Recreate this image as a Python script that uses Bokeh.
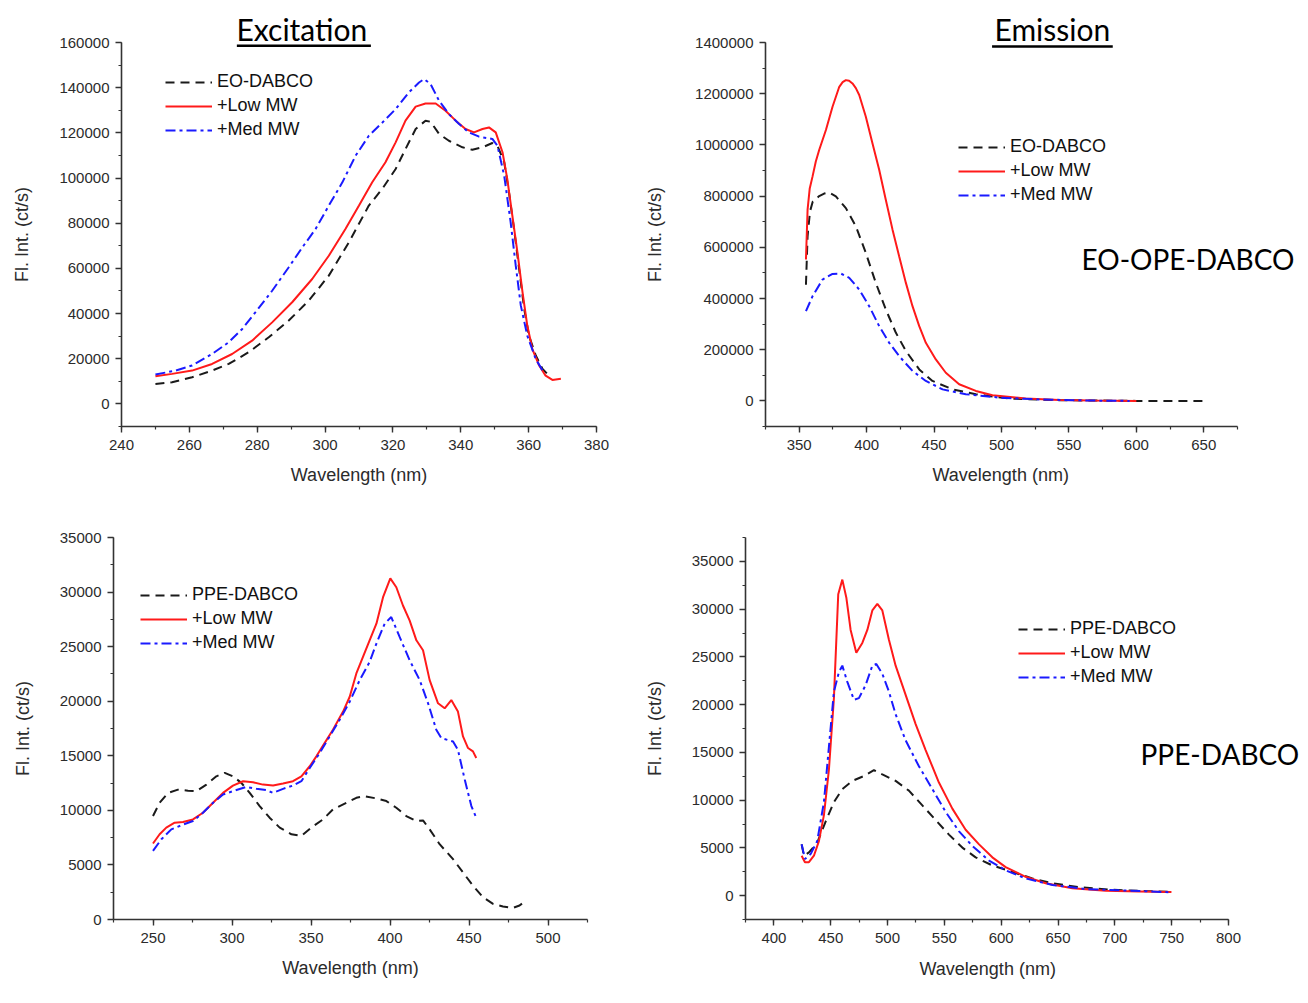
from bokeh.plotting import figure
from bokeh.models import (Range1d, SingleIntervalTicker, BasicTickFormatter, Legend,
                          LegendItem, Label, Arrow, Title)
from bokeh.layouts import column, row
from bokeh.embed import file_html
from bokeh.resources import INLINE

# ---------------- data ----------------
# Panel A: Excitation, EO-OPE-DABCO
exA_dabco_x = [250, 254.9, 260.8, 266.7, 271.6, 277.5, 283.4, 289.3, 295.2, 301.1, 307, 312.9, 316.8,
               320.8, 323.7, 326.7, 329.6, 331.1, 333.6, 336.5, 340.5, 343.4, 346.4, 349.3, 350.8,
               352.8, 354.2, 355.7, 357.2, 358.7, 360.1, 362.1, 364.1, 366]
exA_dabco_y = [8850, 9600, 11800, 14750, 17700, 22900, 29500, 36900, 45700, 56800, 71500, 87800, 95100,
               104000, 112800, 121700, 125400, 124900, 119500, 116500, 113600, 112500, 113600, 115500,
               114300, 107000, 93700, 77400, 59700, 42000, 30200, 21400, 15500, 12500]
exA_low_x = [250, 254.9, 260.8, 266.7, 272.6, 278.5, 284.4, 290.3, 296.2, 301.1, 306, 310, 313.9, 317.8,
             320.8, 323.7, 326.7, 329.6, 332.6, 335.5, 338.5, 341.4, 343.9, 346.4, 348.3, 350.3, 352.3,
             353.7, 355.2, 356.7, 358.2, 359.6, 361.1, 363.1, 365, 367, 369.5]
exA_low_y = [12200, 13300, 14750, 17700, 22100, 28000, 36100, 45000, 55300, 65600, 77400, 87800, 98100,
             107000, 115800, 125400, 131600, 133000, 133000, 129800, 125400, 121700, 120200, 121700,
             122400, 120200, 111400, 99600, 83300, 67100, 49400, 34700, 24300, 17000, 12500, 10600, 11100]
exA_med_x = [250, 255.9, 260.8, 266.7, 271.6, 275.6, 279.5, 284.4, 289.3, 293.3, 297.2, 301.1, 305.1, 309,
             312.9, 316.9, 320.8, 324.7, 327.7, 329.2, 331.1, 333.6, 336.5, 339.5, 342.4, 345.4, 349.3,
             350.8, 352.8, 354.7, 356.2, 357.7, 359.6, 362.1, 364.1]
exA_med_y = [13000, 14750, 17000, 22100, 27300, 33200, 40600, 50100, 60500, 69300, 77400, 87800, 98100,
             109900, 118700, 124600, 130500, 137900, 142300, 143800, 141600, 134200, 128300, 123900,
             120200, 118300, 117300, 114300, 101000, 80400, 61200, 43500, 30200, 19900, 14750]

# Panel B: Emission, EO-OPE-DABCO
emB_dabco_x = [355, 356.2, 358, 360, 364.8, 368.5, 372.2, 377.2, 384.6, 392, 399.4, 406.8, 414.2, 421.7,
               429.1, 439, 448.8, 463.7, 481, 505.7, 542.7, 600, 650]
emB_dabco_y = [454000, 643000, 740000, 778000, 800000, 810000, 814000, 799000, 753000, 682000, 578000,
               461000, 357000, 266000, 195000, 123000, 78000, 45000, 26000, 9100, 2600, 0, 0]
emB_low_x = [355, 356.2, 357.8, 359.9, 362.3, 364.8, 369.8, 374.7, 379.7, 382.2, 384.6, 387, 389.5,
             392, 394.5, 399.4, 404.3, 409.3, 414.2, 419.2, 424.1, 429.1, 434, 439, 443.9, 451.3, 458.7,
             468.6, 481, 493.3, 518, 542.7, 567.4, 600]
emB_low_y = [552000, 747000, 830000, 877000, 935000, 980000, 1058000, 1149000, 1227000, 1245000,
             1253000, 1251000, 1240000, 1222000, 1195000, 1110000, 1006000, 903000, 786000, 669000,
             565000, 461000, 370000, 292000, 227000, 162000, 110000, 65000, 39000, 22000, 9100, 4000,
             1300, 0]
emB_med_x = [355, 359.9, 367.3, 374.7, 380.9, 387.1, 394.5, 401.9, 409.3, 416.7, 424.1, 434, 443.9,
             456.3, 473.5, 498.3, 530.4, 567.4, 595]
emB_med_y = [350600, 409000, 474000, 496000, 497400, 480500, 435000, 370000, 292000, 227000, 175000,
             117000, 78000, 45000, 26000, 13000, 5200, 1300, 0]

# Panel C: Excitation, PPE-DABCO
exC_dabco_x = [250, 254.2, 259.5, 265.8, 272.2, 277.4, 283.8, 290.1, 295.4, 300.6, 305.9, 311.2, 317.5,
               323.8, 330.2, 337.6, 343.9, 350.2, 357.6, 363.9, 372.4, 378.7, 384, 391.4, 397.7, 404,
               410.3, 416.7, 420.9, 425.1, 431.4, 439.9, 446.2, 452.5, 458.9, 465.2, 471.5, 477.8, 482,
               485.9]
exC_dabco_y = [9480, 10700, 11600, 11900, 11800, 11760, 12360, 13120, 13430, 13120, 12520, 11600, 10390,
               9330, 8420, 7810, 7660, 8420, 9170, 10090, 10700, 11150, 11300, 11090, 10850, 10240, 9480,
               9020, 9080, 8260, 6900, 5530, 4310, 3100, 2040, 1430, 1190, 1060, 1280, 1730]
exC_low_x = [250, 254.2, 258.4, 263.7, 269, 275.3, 281.6, 288, 294.3, 300.6, 307, 313.3, 319.6, 326,
             332.3, 338.6, 343.9, 349.2, 353.4, 358.6, 363.9, 370.3, 374.5, 378.7, 382.9, 387.1, 391.4,
             395.6, 400.2, 404, 408.2, 412.4, 416.7, 420.9, 425.1, 430.4, 434.6, 438.8, 443, 446.2,
             449.4, 452.5, 454.6]
exC_low_y = [6960, 7810, 8420, 8870, 8930, 9170, 9780, 10690, 11600, 12270, 12670, 12580, 12360, 12270,
             12460, 12670, 13120, 14040, 14950, 16160, 17380, 19050, 20410, 22540, 24060, 25580, 27100,
             29530, 31260, 30440, 28770, 27400, 25580, 24670, 21930, 19810, 19350, 20110, 19050, 16770,
             15710, 15400, 14800]
exC_med_x = [250, 255.3, 261.6, 267.9, 275.3, 281.6, 288, 294.3, 300.6, 309.1, 315.4, 321.7, 326, 332.3,
             338.6, 343.9, 349.2, 355.5, 361.8, 368.1, 374.5, 380.8, 387.1, 391.4, 396.6, 400.8, 406.1,
             412.4, 418.8, 424.1, 429.3, 432.5, 439.9, 443, 447.3, 451.5, 454.6]
exC_med_y = [6290, 7350, 8260, 8630, 9020, 9780, 10690, 11450, 11760, 12150, 11970, 11850, 11600, 11970,
             12270, 12670, 13880, 15250, 16770, 18290, 19960, 21930, 23600, 25280, 27100, 27710, 25890,
             23760, 21930, 19810, 17380, 16620, 16310, 15550, 12820, 10390, 9330]

# Panel D: Emission, PPE-DABCO
emD_dabco_x = [424.4, 426.4, 430.8, 438.1, 445.5, 452.8, 460.2, 469, 479.2, 488, 495.4, 507.1, 518.8,
               530.6, 542.3, 554, 565.8, 577.5, 592.2, 609.8, 627.4, 645, 668.5, 697.8, 727.2, 747.7]
emD_dabco_y = [5370, 4180, 4520, 5540, 7750, 9790, 11160, 12010, 12520, 13130, 12690, 12010, 10990, 9450,
               7920, 6390, 5030, 4010, 3160, 2480, 1800, 1290, 880, 610, 480, 410]
emD_low_x = [424.4, 427.3, 430.8, 435.2, 439.6, 444, 448.4, 452.8, 456.6, 460.2, 463.7, 467.5, 472.5,
             477.8, 482.2, 486.6, 491, 495.4, 501.2, 507.1, 515.9, 524.7, 533.5, 545.2, 557, 568.7,
             580.5, 592.2, 603.9, 621.5, 639.1, 662.6, 692, 721.3, 749.8]
emD_low_y = [4180, 3500, 3500, 4180, 5710, 8430, 13200, 20680, 31560, 33090, 31220, 27820, 25440, 26460,
             27820, 29860, 30540, 29860, 26800, 24080, 21020, 17960, 15240, 11840, 9110, 6900, 5370,
             4010, 2990, 1970, 1290, 780, 510, 440, 370]
emD_med_x = [424.4, 427.3, 432.3, 438.1, 444, 448.4, 452.8, 457.2, 460.2, 464.6, 470.4, 474.8, 480.7,
             486.6, 490.1, 495.4, 501.2, 507.1, 515.9, 527.6, 539.4, 551.1, 562.9, 574.6, 589.3, 603.9,
             621.5, 645, 674.4, 706.6, 730.1, 749.8]
emD_med_y = [5370, 3840, 4350, 5710, 9790, 15580, 21360, 23400, 24080, 22380, 20510, 20680, 22040, 24080,
             24250, 23230, 21360, 18980, 16260, 13540, 11160, 8770, 6730, 5200, 3670, 2650, 1800, 1120,
             680, 540, 440, 340]

labels_A = ["EO-DABCO", "+Low MW", "+Med MW"]
labels_C = ["PPE-DABCO", "+Low MW", "+Med MW"]
x_title = "Wavelength (nm)"
y_title = "Fl. Int. (ct/s)"

# ---------------- styling ----------------
TICK_FONT = "Liberation Sans"
BLACK = "#1a1a1a"
RED = "#ff1a1a"
BLUE = "#1a1aff"


def make_fig(width, height, borders, xr, yr, xint, yint, ylab_standoff=24, ext_px=0,
             xlabel_offset=None, xlabel_standoff=25):
    """ext_px: extra blank frame width on the right (axis itself is bounded to xr).
    xlabel_offset: if given, the x-axis title is drawn as a below-title, left offset in px."""
    bl, br, bt, bb = borders
    frame_w = width - bl - br
    x_end = xr[1] + ext_px * (xr[1] - xr[0]) / frame_w
    p = figure(width=width, height=height, x_range=Range1d(xr[0], x_end), y_range=Range1d(*yr),
               output_backend="svg", toolbar_location=None,
               min_border_left=bl, min_border_right=br - ext_px, min_border_top=bt,
               min_border_bottom=bb)
    p.xgrid.visible = False
    p.ygrid.visible = False
    p.outline_line_color = None
    p.background_fill_color = "white"
    p.border_fill_color = "white"
    p.xaxis.ticker = SingleIntervalTicker(interval=xint, num_minor_ticks=2)
    p.yaxis.ticker = SingleIntervalTicker(interval=yint, num_minor_ticks=2)
    p.yaxis.formatter = BasicTickFormatter(use_scientific=False)
    p.xaxis.formatter = BasicTickFormatter(use_scientific=False)
    p.xaxis.bounds = xr
    for ax in (p.xaxis[0], p.yaxis[0]):
        ax.axis_line_color = "#333333"
        ax.axis_line_width = 1.6
        ax.major_tick_line_color = "#333333"
        ax.major_tick_line_width = 1.4
        ax.minor_tick_line_color = "#333333"
        ax.minor_tick_line_width = 1.2
        ax.major_tick_out = 6
        ax.major_tick_in = 0
        ax.minor_tick_out = 3
        ax.minor_tick_in = 0
        ax.major_label_text_font = TICK_FONT
        ax.major_label_text_font_size = "15px"
        ax.major_label_text_color = "#2b2b2b"
        ax.axis_label_text_font = TICK_FONT
        ax.axis_label_text_font_size = "18px"
        ax.axis_label_text_font_style = "normal"
        ax.axis_label_text_color = "#2b2b2b"
    if xlabel_offset is None:
        p.xaxis.axis_label = x_title
    else:
        p.add_layout(Title(text=x_title, align="left", offset=xlabel_offset, standoff=xlabel_standoff,
                           vertical_align="top", text_font=TICK_FONT, text_font_size="18px",
                           text_font_style="normal", text_color="#2b2b2b"), "below")
    p.yaxis.axis_label = y_title
    p.xaxis.major_label_standoff = 7
    p.xaxis.axis_label_standoff = 12
    p.yaxis.major_label_standoff = 6
    p.yaxis.axis_label_standoff = ylab_standoff
    return p


def add_series(p, xs, ys, labels, loc):
    r1 = p.line(xs[0], ys[0], line_color=BLACK, line_width=2, line_dash="9 6")
    r2 = p.line(xs[1], ys[1], line_color=RED, line_width=2)
    r3 = p.line(xs[2], ys[2], line_color=BLUE, line_width=2, line_dash="10 4 3 4")
    leg = Legend(items=[LegendItem(label=labels[0], renderers=[r1]),
                        LegendItem(label=labels[1], renderers=[r2]),
                        LegendItem(label=labels[2], renderers=[r3])],
                 location=loc, padding=0, margin=0, spacing=3,
                 glyph_width=47, glyph_height=20, label_height=20, label_standoff=5,
                 label_text_font=TICK_FONT, label_text_font_size="18px", label_text_color="#111111",
                 background_fill_alpha=0, border_line_alpha=0)
    p.add_layout(leg)


def add_title(p, text, offset):
    p.add_layout(Title(text=text, align="left", offset=offset, standoff=-8,
                       vertical_align="bottom", text_font="Lato", text_font_size="30px",
                       text_font_style="normal", text_color="black"), "above")


def add_underline(p, x0, x1, y):
    # y in data units, just inside the top of the frame
    p.add_layout(Arrow(start=None, end=None, x_start=x0, y_start=y, x_end=x1, y_end=y,
                       line_color="black", line_width=2.5))


def add_side_label(p, sx, sy, text):
    # sx, sy: screen pixels from the frame's bottom-left corner
    p.add_layout(Label(x=sx, y=sy, x_units="screen", y_units="screen", text=text,
                       text_font="Lato", text_font_size="28px", text_align="left",
                       text_baseline="middle", text_color="black"))


# Panel figures: (left, right, top, bottom) borders
pA = make_fig(638, 508, (121, 42, 42, 82), (240, 380), (-10000, 160000), 20, 20000)
pB = make_fig(670, 508, (127, 71, 42, 82), (325, 675), (-100000, 1400000), 50, 200000,
              ylab_standoff=27, ext_px=63, xlabel_offset=167, xlabel_standoff=24)
pC = make_fig(638, 495, (113, 51, 29, 82), (225, 525), (0, 35000), 50, 5000)
pD = make_fig(670, 495, (107, 80, 19, 84), (375, 800), (-2500, 37500), 50, 5000, ext_px=76,
              xlabel_offset=174, xlabel_standoff=26)

add_series(pA, [exA_dabco_x, exA_low_x, exA_med_x], [exA_dabco_y, exA_low_y, exA_med_y], labels_A, (44, 286))
add_series(pB, [emB_dabco_x, emB_low_x, emB_med_x], [emB_dabco_y, emB_low_y, emB_med_y], labels_A, (193, 221))
add_series(pC, [exC_dabco_x, exC_low_x, exC_med_x], [exC_dabco_y, exC_low_y, exC_med_y], labels_C, (27, 266))
add_series(pD, [emD_dabco_x, emD_low_x, emD_med_x], [emD_dabco_y, emD_low_y, emD_med_y], labels_C, (273, 232))

add_title(pA, "Excitation", 115)
add_underline(pA, 274, 313.5, 158600)
add_title(pB, "Emission", 229)
add_underline(pB, 493, 582.5, 1384000)

add_side_label(pB, 316, 168, "EO-OPE-DABCO")
add_side_label(pD, 395, 166, "PPE-DABCO")

layout = column(row(pA, pB), row(pC, pD))
open("out.html", "w").write(file_html(layout, INLINE))
